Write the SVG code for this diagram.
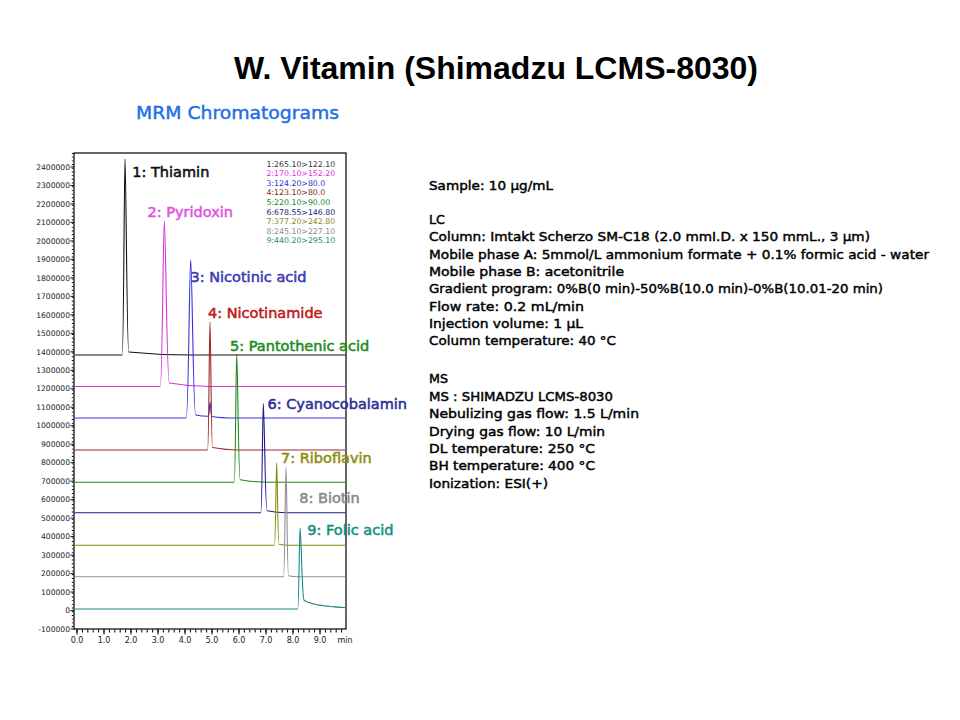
<svg xmlns="http://www.w3.org/2000/svg" width="960" height="720" viewBox="0 0 960 720">
<style>
.title{font-family:"Liberation Sans",Arial,sans-serif;font-weight:bold;font-size:32px;fill:#000}
.sub{font-family:"DejaVu Sans",sans-serif;font-size:18px;fill:#1f6fe5;stroke:#1f6fe5;stroke-width:0.45}
.ax{font-family:"DejaVu Sans",sans-serif;font-size:7.6px;fill:#222}
.axx{font-family:"DejaVu Sans",sans-serif;font-size:8px;fill:#222}
.leg{font-family:"DejaVu Sans",sans-serif;font-size:7.8px}
.lab{font-family:"DejaVu Sans",sans-serif;font-size:14.5px;stroke-width:0.55}
.info{font-family:"DejaVu Sans",sans-serif;font-size:13px;fill:#000;stroke:#000;stroke-width:0.45}
.tr{fill:none;stroke-width:1.1;stroke-linejoin:round}
</style>
<rect width="960" height="720" fill="#fff"/>
<g id="title"><text class="title" x="496" y="79" text-anchor="middle">W. Vitamin (Shimadzu LCMS-8030)</text></g>
<g id="subtitle"><text class="sub" x="136" y="119" textLength="203" lengthAdjust="spacingAndGlyphs">MRM Chromatograms</text></g>

<g id="axes">
<rect x="74" y="153" width="272" height="476" fill="none" stroke="#000" stroke-width="1.2"/>
<line x1="72.6" y1="153" x2="72.6" y2="629" stroke="#000" stroke-width="1.6" stroke-dasharray="0.9 2.796"/>
<path d="M70.5,166.98H74M70.5,185.46H74M70.5,203.94H74M70.5,222.42H74M70.5,240.9H74M70.5,259.38H74M70.5,277.86H74M70.5,296.34H74M70.5,314.82H74M70.5,333.3H74M70.5,351.78H74M70.5,370.26H74M70.5,388.74H74M70.5,407.22H74M70.5,425.7H74M70.5,444.18H74M70.5,462.66H74M70.5,481.14H74M70.5,499.62H74M70.5,518.1H74M70.5,536.58H74M70.5,555.06H74M70.5,573.54H74M70.5,592.02H74M70.5,610.5H74M70.5,628.98H74" stroke="#000" stroke-width="0.9"/>
<line x1="76.5" y1="631" x2="346" y2="631" stroke="#000" stroke-width="3" stroke-dasharray="1 4.4"/>
<path d="M77,629V634.5M104,629V634.5M131,629V634.5M158,629V634.5M185,629V634.5M212,629V634.5M239,629V634.5M266,629V634.5M293,629V634.5M320,629V634.5" stroke="#000" stroke-width="1"/>
<g class="ax" text-anchor="end">
<text x="70" y="169.7">2400000</text><text x="70" y="188.2">2300000</text><text x="70" y="206.6">2200000</text><text x="70" y="225.1">2100000</text><text x="70" y="243.6">2000000</text><text x="70" y="262.1">1900000</text><text x="70" y="280.6">1800000</text><text x="70" y="299">1700000</text><text x="70" y="317.5">1600000</text><text x="70" y="336">1500000</text><text x="70" y="354.5">1400000</text><text x="70" y="373">1300000</text><text x="70" y="391.4">1200000</text><text x="70" y="409.9">1100000</text><text x="70" y="428.4">1000000</text><text x="70" y="446.9">900000</text><text x="70" y="465.4">800000</text><text x="70" y="483.8">700000</text><text x="70" y="502.3">600000</text><text x="70" y="520.8">500000</text><text x="70" y="539.3">400000</text><text x="70" y="557.8">300000</text><text x="70" y="576.2">200000</text><text x="70" y="594.7">100000</text><text x="70" y="613.2">0</text><text x="70" y="631.7">-100000</text>
</g>
<g class="axx" text-anchor="middle">
<text x="77" y="643">0.0</text><text x="104" y="643">1.0</text><text x="131" y="643">2.0</text><text x="158" y="643">3.0</text><text x="185" y="643">4.0</text><text x="212" y="643">5.0</text><text x="239" y="643">6.0</text><text x="266" y="643">7.0</text><text x="293" y="643">8.0</text><text x="320" y="643">9.0</text><text x="345" y="643">min</text>
</g>
</g>

<g id="traces">
<path class="tr" stroke="#111" d="M74.6,355H122.25C123.68,355 124.23,159 125,159C126.05,159 126.8,352 128.75,352C146.75,353.8 164.75,355 188.75,355H345.4"/>
<path class="tr" stroke="#d633d6" d="M74.6,386.5H160.3C162.38,386.5 163.18,221 164.3,221C165.7,221 166.7,383 169.3,383C181.3,385.1 193.3,386.5 209.3,386.5H345.4"/>
<path class="tr" stroke="#3333dd" d="M74.6,418H186.2C188.54,418 189.44,259.5 190.7,259.5C192.1,259.5 193.1,415 195.7,415C200,416 206,416.3 208.5,416.3C209.3,416.3 209.6,402 210,402C210.4,402 210.8,415 212,416.5C218,417.5 225,418 235,418H345.4"/>
<path class="tr" stroke="#9a2a2a" d="M74.6,450H207.6C208.86,450 209.33,322 210,322C210.7,322 211.2,447.5 212.5,447.5C220,448.8 227.5,450 237.5,450H345.4"/>
<path class="tr" stroke="#1a8a1a" d="M74.6,482.3H234.2C235.5,482.3 236,354 236.7,354C237.68,354 238.38,479.8 240.2,479.8C249.2,481.3 258.2,482.3 270.2,482.3H345.4"/>
<path class="tr" stroke="#1c1c8c" d="M74.6,512.7H260.8C262.1,512.7 262.6,403.3 263.3,403.3C264.35,403.3 265.1,510.7 267.05,510.7C273,511.9 279,512.7 287,512.7H345.4"/>
<path class="tr" stroke="#8c8c0a" d="M74.6,545.3H274.45C275.62,545.3 276.07,462.7 276.7,462.7C277.33,462.7 277.78,544.3 278.95,544.3C282,545 285,545.3 289,545.3H345.4"/>
<path class="tr" stroke="#8e8e8e" d="M74.6,576.7H283.5C284.8,576.7 285.3,467.3 286,467.3C286.7,467.3 287.2,575.7 288.5,575.7C291.5,576.4 294.5,576.7 298.5,576.7H345.4"/>
<path class="tr" stroke="#1c8585" d="M74.6,609H297.75C298.92,609 299.37,527.7 300,527.7C301.12,527.7 302,598 304,600L306,601.5L308,602.2L310,602.8L312,603.6L314,603.9L316,604.6L318,604.8L320,605.4L322,605.3L324,605.9L326,606.1L328,606L330,606.5L332,606.8L334,606.6L336,607.1L338,606.9L340,607.4L342,607.3L345.4,607.7"/>
</g>

<g id="peak-labels">
<text class="lab" x="132.3" y="177.3" fill="#111" stroke="#111">1: Thiamin</text>
<text class="lab" x="147.5" y="216.7" fill="#e055e0" stroke="#e055e0">2: Pyridoxin</text>
<text class="lab" x="190.5" y="282" fill="#3c3cb4" stroke="#3c3cb4">3: Nicotinic acid</text>
<text class="lab" x="208" y="318.3" fill="#c01a1a" stroke="#c01a1a">4: Nicotinamide</text>
<text class="lab" x="230" y="351" fill="#1e8c1e" stroke="#1e8c1e">5: Pantothenic acid</text>
<text class="lab" x="267.5" y="409.3" fill="#303098" stroke="#303098">6: Cyanocobalamin</text>
<text class="lab" x="281" y="463.3" fill="#8e8e14" stroke="#8e8e14">7: Riboflavin</text>
<text class="lab" x="299.3" y="502.7" fill="#8a8a8a" stroke="#8a8a8a">8: Biotin</text>
<text class="lab" x="307.3" y="535" fill="#13927f" stroke="#13927f">9: Folic acid</text>
</g>

<g id="legend" class="leg">
<text x="266.5" y="166.5" fill="#333">1:265.10&gt;122.10</text>
<text x="266.5" y="176.1" fill="#e030e0">2:170.10&gt;152.20</text>
<text x="266.5" y="185.7" fill="#3030c8">3:124.20&gt;80.0</text>
<text x="266.5" y="195.3" fill="#802828">4:123.10&gt;80.0</text>
<text x="266.5" y="204.9" fill="#208a20">5:220.10&gt;90.00</text>
<text x="266.5" y="214.5" fill="#202080">6:678.55&gt;146.80</text>
<text x="266.5" y="224.1" fill="#8a8a20">7:377.20&gt;242.80</text>
<text x="266.5" y="233.7" fill="#8a8a8a">8:245.10&gt;227.10</text>
<text x="266.5" y="243.3" fill="#208a8a">9:440.20&gt;295.10</text>
</g>

<g id="conditions">
<text class="info" x="429" y="189.5" textLength="124" lengthAdjust="spacingAndGlyphs">Sample: 10 μg/mL</text>
<text class="info" x="429" y="223.5" textLength="16" lengthAdjust="spacingAndGlyphs">LC</text>
<text class="info" x="429" y="241" textLength="441" lengthAdjust="spacingAndGlyphs">Column: Imtakt Scherzo SM-C18 (2.0 mmI.D. x 150 mmL., 3 μm)</text>
<text class="info" x="429" y="258.7" textLength="500" lengthAdjust="spacingAndGlyphs">Mobile phase A: 5mmol/L ammonium formate + 0.1% formic acid - water</text>
<text class="info" x="429" y="276" textLength="195" lengthAdjust="spacingAndGlyphs">Mobile phase B: acetonitrile</text>
<text class="info" x="429" y="293.3" textLength="454" lengthAdjust="spacingAndGlyphs">Gradient program: 0%B(0 min)-50%B(10.0 min)-0%B(10.01-20 min)</text>
<text class="info" x="429" y="310.7" textLength="155" lengthAdjust="spacingAndGlyphs">Flow rate: 0.2 mL/min</text>
<text class="info" x="429" y="328" textLength="154" lengthAdjust="spacingAndGlyphs">Injection volume: 1 μL</text>
<text class="info" x="429" y="345.3" textLength="187" lengthAdjust="spacingAndGlyphs">Column temperature: 40 °C</text>
<text class="info" x="429" y="383.3" textLength="19" lengthAdjust="spacingAndGlyphs">MS</text>
<text class="info" x="429" y="400.7" textLength="184" lengthAdjust="spacingAndGlyphs">MS : SHIMADZU LCMS-8030</text>
<text class="info" x="429" y="418.1" textLength="210" lengthAdjust="spacingAndGlyphs">Nebulizing gas flow: 1.5 L/min</text>
<text class="info" x="429" y="435.5" textLength="176" lengthAdjust="spacingAndGlyphs">Drying gas flow: 10 L/min</text>
<text class="info" x="429" y="452.9" textLength="166" lengthAdjust="spacingAndGlyphs">DL temperature: 250 °C</text>
<text class="info" x="429" y="470.3" textLength="166" lengthAdjust="spacingAndGlyphs">BH temperature: 400 °C</text>
<text class="info" x="429" y="487.7" textLength="119" lengthAdjust="spacingAndGlyphs">Ionization: ESI(+)</text>
</g>
</svg>
